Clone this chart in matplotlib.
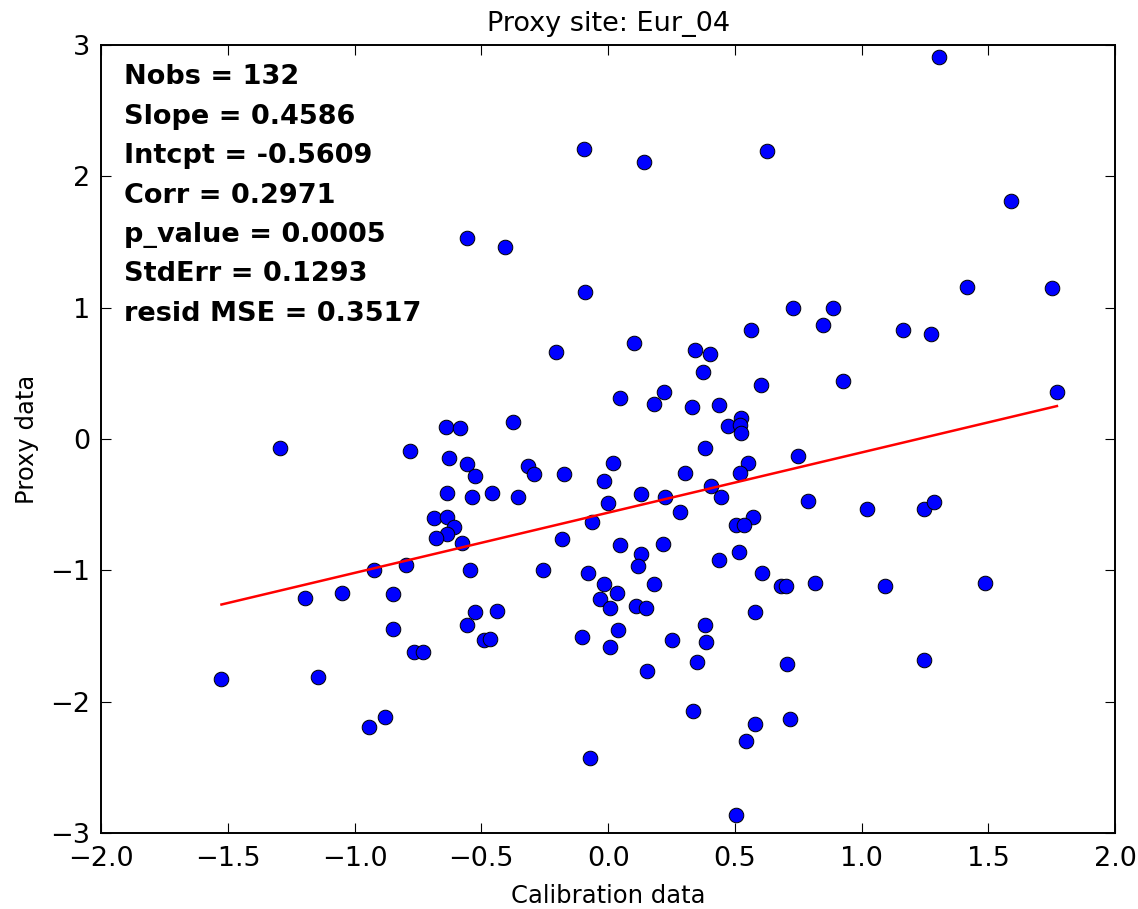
import numpy as np
import matplotlib
matplotlib.use('Agg')
import matplotlib.pyplot as plt

site = 'Eur_04'

# calibration (x) vs proxy (y) values
calib = [
    1.306, -0.097, 0.142, 0.625, 1.590, 1.415, 1.750, 0.730, 0.885, 0.846,
    0.563, 1.163, 1.273, 0.103, 0.343, 0.401, 0.375, 0.925, 0.602, 0.221,
    0.045, 0.179, 0.329, 0.438, 1.770, 0.523, 0.471, 0.521, 0.523, -0.557,
    -0.407, -0.091, -0.206, -0.640, -0.584, -0.375, -1.294, -0.782, -0.627, -0.557,
    -0.525, -0.318, -0.294, -0.176, 0.018, -0.016, -0.634, -0.538, -0.460, -0.357,
    -0.002, -0.685, -0.634, -0.607, -0.634, -0.680, -0.577, -0.062, -0.183, 0.045,
    -0.797, -0.925, -0.544, -0.255, -0.078, -0.018, 0.033, -0.032, 0.007, -1.196,
    -1.048, -0.848, -0.525, -0.440, -0.557, -0.490, -0.465, -0.848, -0.765, -0.732,
    -0.104, 0.039, 0.007, -1.525, -1.145, -0.945, -0.880, -0.072, 0.381, 0.750,
    0.550, 0.304, 0.521, 0.405, 0.129, 0.225, 0.445, 0.283, 0.789, 1.019,
    1.247, 1.286, 0.570, 0.504, 0.537, 0.218, 0.129, 0.116, 0.517, 0.438,
    0.607, 0.181, 0.109, 0.151, 0.681, 0.701, 0.814, 1.091, 1.487, 0.581,
    0.381, 0.387, 0.251, 0.349, 0.155, 0.705, 1.247, 0.335, 0.717, 0.581,
    0.542, 0.504,
]
proxy = [
    2.910, 2.210, 2.110, 2.190, 1.810, 1.160, 1.150, 1.000, 1.000, 0.870,
    0.830, 0.830, 0.800, 0.730, 0.680, 0.650, 0.510, 0.445, 0.410, 0.360,
    0.310, 0.270, 0.244, 0.257, 0.360, 0.163, 0.099, 0.107, 0.043, 1.530,
    1.460, 1.120, 0.660, 0.094, 0.083, 0.132, -0.071, -0.092, -0.143, -0.190,
    -0.280, -0.206, -0.270, -0.270, -0.180, -0.318, -0.410, -0.445, -0.410, -0.445,
    -0.490, -0.605, -0.593, -0.670, -0.720, -0.755, -0.793, -0.630, -0.765, -0.807,
    -0.957, -0.995, -0.995, -0.995, -1.020, -1.107, -1.170, -1.221, -1.285, -1.210,
    -1.170, -1.180, -1.320, -1.310, -1.420, -1.530, -1.520, -1.445, -1.620, -1.620,
    -1.510, -1.458, -1.585, -1.830, -1.810, -2.196, -2.120, -2.430, -0.071, -0.130,
    -0.180, -0.257, -0.257, -0.356, -0.420, -0.445, -0.445, -0.557, -0.470, -0.532,
    -0.532, -0.480, -0.595, -0.656, -0.656, -0.797, -0.875, -0.970, -0.857, -0.918,
    -1.020, -1.107, -1.270, -1.285, -1.120, -1.120, -1.097, -1.120, -1.097, -1.320,
    -1.420, -1.547, -1.534, -1.697, -1.770, -1.710, -1.685, -2.074, -2.135, -2.173,
    -2.298, -2.863,
]

nobs = 132
slope = 0.4586
intcpt = -0.5609
corr = 0.2971
p_value = 0.0005
std_err = 0.1293
resid_mse = 0.3517

x = np.array(calib)
y = np.array(proxy)

fig = plt.figure(figsize=(11.38, 9.09), dpi=100)
ax = fig.add_axes([0.0888, 0.0836, 0.8912, 0.8669])

ax.plot(x, y, 'o', color='b', markersize=10.5, markeredgecolor='k', markeredgewidth=0.7)

# regression line over the calibration range
xl = np.array([x.min(), x.max()])
ax.plot(xl, slope * xl + intcpt, 'r-', linewidth=1.8)

ax.set_xlim(-2, 2)
ax.set_ylim(-3, 3)
ax.set_xticks(np.arange(-2, 2.01, 0.5))
ax.set_yticks(np.arange(-3, 4, 1))
ax.tick_params(direction='in', top=True, right=True, length=7, width=0.8,
               labelsize=19.5)
ax.tick_params(axis='x', pad=9)
ax.tick_params(axis='y', pad=8)
for s in ax.spines.values():
    s.set_linewidth(1.4)

ax.set_title('Proxy site: ' + site, fontsize=19.5, pad=10)
ax.set_xlabel('Calibration data', fontsize=17.5, labelpad=9)
ax.set_ylabel('Proxy data', fontsize=17.5, labelpad=8)

stats = [
    'Nobs = %d' % nobs,
    'Slope = %.4f' % slope,
    'Intcpt = %.4f' % intcpt,
    'Corr = %.4f' % corr,
    'p_value = %.4f' % p_value,
    'StdErr = %.4f' % std_err,
    'resid MSE = %.4f' % resid_mse,
]
for i, s in enumerate(stats):
    ax.text(0.0225, 0.95 - 0.05 * i, s, transform=ax.transAxes,
            fontsize=19.5, fontweight='bold')

fig.savefig('out.png', dpi=100)
